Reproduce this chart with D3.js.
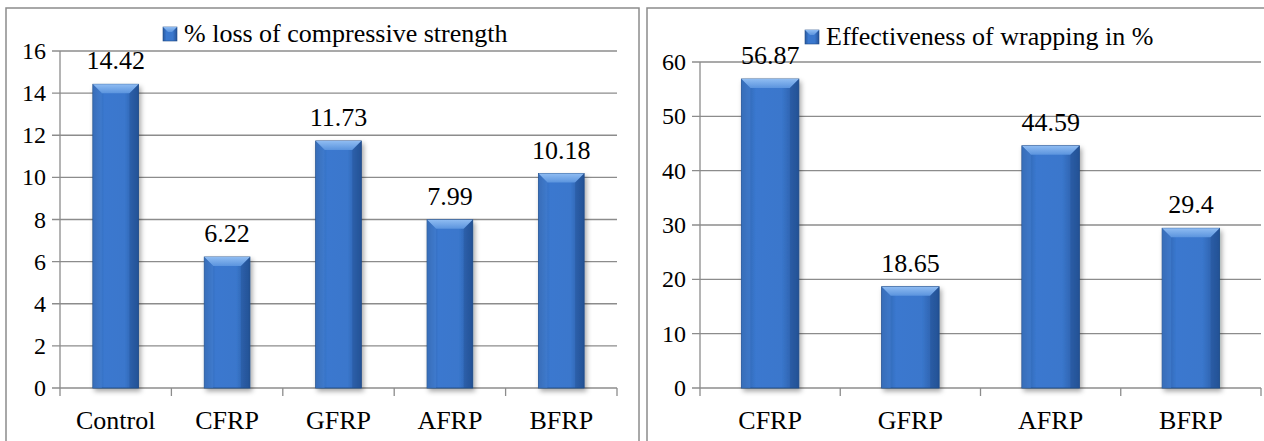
<!DOCTYPE html>
<html>
<head>
<meta charset="utf-8">
<script src="https://cdn.jsdelivr.net/npm/d3@7"></script>
</head>
<body style="margin:0;background:#fff">
<svg id="chart" width="1264" height="441"></svg>
<script>
// chart data
const lossCats = ["Control", "CFRP", "GFRP", "AFRP", "BFRP"];
const lossVals = [14.42, 6.22, 11.73, 7.99, 10.18];
const lossTicks = [0, 2, 4, 6, 8, 10, 12, 14, 16];
const lossLabel = "% loss of compressive strength";

const effCats = ["CFRP", "GFRP", "AFRP", "BFRP"];
const effVals = [56.87, 18.65, 44.59, 29.4];
const effTicks = [0, 10, 20, 30, 40, 50, 60];
const effLabel = "Effectiveness of wrapping in %";

const svg = d3.select("#chart");
const defs = svg.append("defs");

let g = defs.append("linearGradient").attr("id", "barFill")
    .attr("x1", 0).attr("x2", 1).attr("y1", 0).attr("y2", 0);
g.append("stop").attr("offset", "0%").attr("stop-color", "#2a5ba0");
g.append("stop").attr("offset", "25%").attr("stop-color", "#3a78cf");
g.append("stop").attr("offset", "70%").attr("stop-color", "#3a77cc");
g.append("stop").attr("offset", "100%").attr("stop-color", "#26549a");

let gt = defs.append("linearGradient").attr("id", "barTop")
    .attr("x1", 0).attr("x2", 0).attr("y1", 0).attr("y2", 1);
gt.append("stop").attr("offset", "0%").attr("stop-color", "#8fbcf2");
gt.append("stop").attr("offset", "100%").attr("stop-color", "#5b94de");

let sh = defs.append("filter").attr("id", "shadow")
    .attr("x", "-20%").attr("y", "-5%").attr("width", "150%").attr("height", "115%");
sh.append("feDropShadow").attr("dx", 2).attr("dy", 3).attr("stdDeviation", 2.5)
    .attr("flood-color", "#000").attr("flood-opacity", 0.35);

// text helper, serif like the original
function label(sel, size) {
    return sel.style("font", `${size}px "Liberation Serif", "Times New Roman", serif`)
        .attr("fill", "#000");
}

function drawPanel(opt) {
    // outer frame
    svg.append("rect")
        .attr("x", opt.frame[0]).attr("y", opt.frame[1])
        .attr("width", opt.frame[2]).attr("height", opt.frame[3])
        .attr("fill", "none").attr("stroke", "#8c8c8c").attr("stroke-width", 1.5);

    const x = d3.scaleBand().domain(opt.cats).range([opt.x0, opt.x1]).paddingInner(0).paddingOuter(0);
    const y = d3.scaleLinear().domain([0, d3.max(opt.ticks)]).range([opt.y0, opt.y1]);

    // gridlines
    svg.append("g").selectAll("line").data(opt.ticks).join("line")
        .attr("x1", opt.x0 - 8).attr("x2", opt.x1)
        .attr("y1", d => y(d)).attr("y2", d => y(d))
        .attr("stroke", "#8c8c8c").attr("stroke-width", 1.3);

    // y axis line
    svg.append("line").attr("x1", opt.x0).attr("x2", opt.x0)
        .attr("y1", y(d3.max(opt.ticks))).attr("y2", opt.y0 + 8)
        .attr("stroke", "#8c8c8c").attr("stroke-width", 1.3);

    // category ticks
    const bounds = opt.cats.map(c => x(c)).concat([opt.x1]);
    svg.append("g").selectAll("line").data(bounds.slice(1)).join("line")
        .attr("x1", d => d).attr("x2", d => d)
        .attr("y1", opt.y0).attr("y2", opt.y0 + 8)
        .attr("stroke", "#8c8c8c").attr("stroke-width", 1.3);

    // y tick labels
    label(svg.append("g").selectAll("text").data(opt.ticks).join("text"), 24)
        .attr("x", opt.x0 - 14).attr("y", d => y(d) + 8)
        .attr("text-anchor", "end")
        .text(d => d);

    // bars
    const bw = x.bandwidth() * opt.barFrac;
    const bars = svg.append("g").selectAll("g").data(opt.vals).join("g");
    const left = i => x(opt.cats[i]) + (x.bandwidth() - bw) / 2;
    bars.append("rect")
        .attr("x", (d, i) => left(i))
        .attr("y", d => y(d))
        .attr("width", bw)
        .attr("height", d => opt.y0 - y(d))
        .attr("fill", "url(#barFill)")
        .attr("stroke", "#1f4a86").attr("stroke-width", 0.8)
        .attr("filter", "url(#shadow)");
    const bev = 9;
    bars.append("path")
        .attr("d", (d, i) => {
            const l = left(i), r = l + bw, t = y(d);
            return `M${l},${t}L${r},${t}L${r - bev},${t + bev}L${l + bev},${t + bev}Z`;
        })
        .attr("fill", "url(#barTop)");
    bars.append("path")
        .attr("d", (d, i) => {
            const l = left(i), t = y(d);
            return `M${l},${t}L${l + bev},${t + bev}L${l + bev},${opt.y0}L${l},${opt.y0}Z`;
        })
        .attr("fill", "#4a86d6").attr("opacity", 0.45);
    bars.append("path")
        .attr("d", (d, i) => {
            const r = left(i) + bw, t = y(d);
            return `M${r},${t}L${r - bev},${t + bev}L${r - bev},${opt.y0}L${r},${opt.y0}Z`;
        })
        .attr("fill", "#1f4c8c").attr("opacity", 0.35);

    // value labels
    label(svg.append("g").selectAll("text").data(opt.vals).join("text"), 26)
        .attr("x", (d, i) => x(opt.cats[i]) + x.bandwidth() / 2)
        .attr("y", d => y(d) - 15)
        .attr("text-anchor", "middle")
        .text(d => d);

    // category labels
    label(svg.append("g").selectAll("text").data(opt.cats).join("text"), 26)
        .attr("x", d => x(d) + x.bandwidth() / 2)
        .attr("y", opt.y0 + 41)
        .attr("text-anchor", "middle")
        .text(d => d);

    // legend
    svg.append("rect")
        .attr("x", opt.legend[0]).attr("y", opt.legend[1])
        .attr("width", 14).attr("height", 14)
        .attr("fill", "url(#barFill)").attr("stroke", "#1f4a86").attr("stroke-width", 0.6);
    svg.append("path")
        .attr("d", `M${opt.legend[0]},${opt.legend[1]}l14,0l-5,5l-4,0Z`)
        .attr("fill", "url(#barTop)");
    label(svg.append("text"), 26)
        .attr("x", opt.legend[0] + 21).attr("y", opt.legend[1] + 15)
        .text(opt.label);
}

drawPanel({
    cats: lossCats, vals: lossVals, ticks: lossTicks, label: lossLabel,
    frame: [6, 8, 633, 450], x0: 60, x1: 617, y0: 388, y1: 51,
    barFrac: 0.41, legend: [163, 27]
});

drawPanel({
    cats: effCats, vals: effVals, ticks: effTicks, label: effLabel,
    frame: [647, 8, 640, 450], x0: 700, x1: 1261, y0: 388, y1: 62,
    barFrac: 0.41, legend: [805, 30]
});
</script>
</body>
</html>
